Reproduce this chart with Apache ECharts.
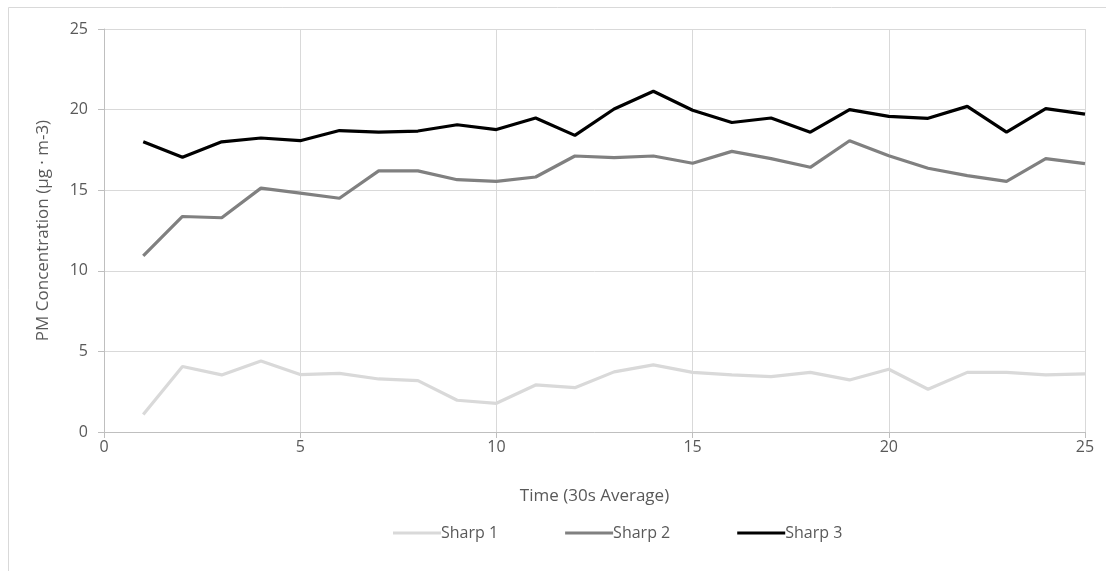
<!DOCTYPE html>
<html>
<head>
<meta charset="utf-8">
<script src="https://cdn.jsdelivr.net/npm/echarts@6/dist/echarts.min.js"></script>
<style>
html,body{margin:0;padding:0;background:#fff;}
#chart{width:1106px;height:571px;}
</style>
</head>
<body>
<div id="chart"></div>
<script>
const times = [1,2,3,4,5,6,7,8,9,10,11,12,13,14,15,16,17,18,19,20,21,22,23,24,25];
const sharp1 = [1.08,4.06,3.54,4.41,3.56,3.64,3.29,3.19,1.97,1.78,2.92,2.75,3.73,4.16,3.70,3.54,3.44,3.70,3.23,3.89,2.65,3.70,3.70,3.54,3.60];
const sharp2 = [10.93,13.37,13.29,15.13,14.82,14.50,16.20,16.20,15.65,15.55,15.82,17.12,17.02,17.12,16.67,17.41,16.96,16.42,18.07,17.14,16.36,15.90,15.55,16.96,16.65];
const sharp3 = [18.00,17.04,18.00,18.24,18.07,18.70,18.60,18.67,19.06,18.76,19.48,18.40,20.04,21.14,19.96,19.20,19.48,18.60,20.00,19.58,19.46,20.20,18.60,20.06,19.72];
const seriesNames = ['Sharp 1','Sharp 2','Sharp 3'];
const seriesColors = ['#d9d9d9','#808080','#000000'];

const allData = [sharp1, sharp2, sharp3];
const font = 'Open Sans, Liberation Sans, sans-serif';
const chart = echarts.init(document.getElementById('chart'), null, {renderer:'canvas'});
chart.setOption({
  animation:false,
  backgroundColor:'#fff',
  graphic:[
    {type:'line', shape:{x1:8.5,y1:7.5,x2:1106,y2:7.5}, style:{stroke:'#d9d9d9',lineWidth:1}},
    {type:'line', shape:{x1:8.5,y1:7.5,x2:8.5,y2:571}, style:{stroke:'#d9d9d9',lineWidth:1}}
  ],
  grid:{left:104,right:21,top:29,bottom:139,containLabel:false},
  legend:{
    bottom:25, left:388,
    itemWidth:48, itemHeight:3, itemGap:67,
    icon:'rect',
    textStyle:{color:'#595959',fontSize:16,fontFamily:font,padding:[0,0,0,-5]},
    data:seriesNames
  },
  xAxis:{
    type:'value', min:0, max:25, interval:5,
    name:'Time (30s Average)', nameLocation:'middle', nameGap:56,
    nameTextStyle:{color:'#595959',fontSize:17,fontFamily:font},
    axisLine:{show:true,lineStyle:{color:'#bfbfbf'}},
    axisTick:{show:true,length:6,lineStyle:{color:'#bfbfbf'}},
    axisLabel:{color:'#595959',fontSize:16,fontFamily:font,margin:7},
    splitLine:{show:true,lineStyle:{color:'#d9d9d9'}}
  },
  yAxis:{
    type:'value', min:0, max:25, interval:5,
    name:'PM Concentration (µg · m-3)', nameLocation:'middle', nameGap:52,
    nameTextStyle:{color:'#595959',fontSize:17,fontFamily:font},
    axisLine:{show:true,lineStyle:{color:'#bfbfbf'}},
    axisTick:{show:true,length:6,lineStyle:{color:'#bfbfbf'}},
    axisLabel:{color:'#595959',fontSize:16,fontFamily:font,margin:16},
    splitLine:{show:true,lineStyle:{color:'#d9d9d9'}}
  },
  series: seriesNames.map((n,i)=>({
    name:n, type:'line', showSymbol:false, symbol:'none',
    data: times.map((t,j)=>[t, allData[i][j]]),
    lineStyle:{color:seriesColors[i],width:3.2},
    itemStyle:{color:seriesColors[i]},
    z:2+i
  }))
});
</script>
</body>
</html>
